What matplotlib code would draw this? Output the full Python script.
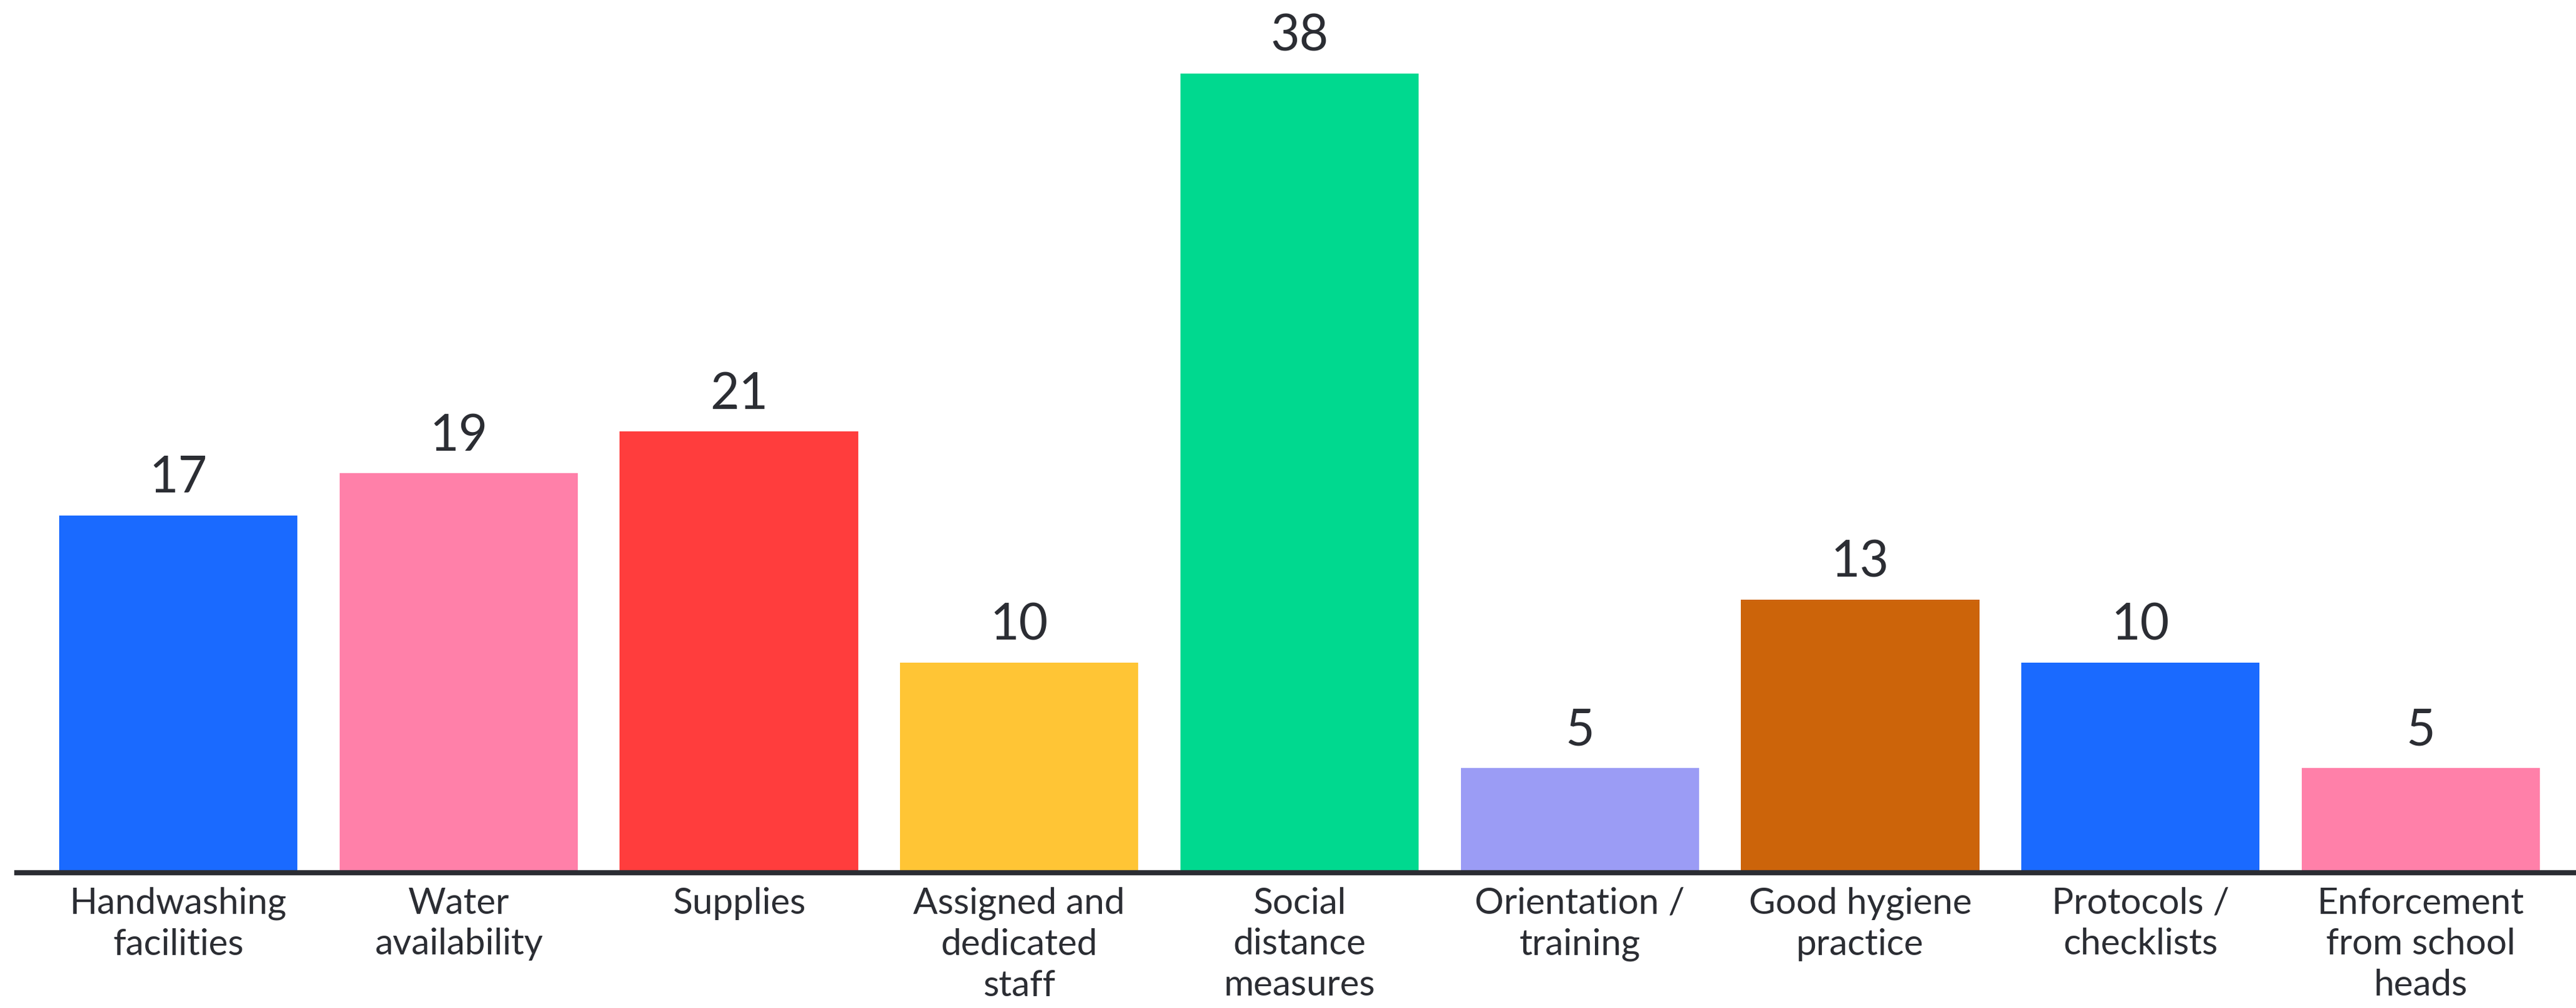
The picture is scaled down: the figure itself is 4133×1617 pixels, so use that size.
import matplotlib.pyplot as plt

categories = ['Handwashing\nfacilities', 'Water\navailability', 'Supplies',
              'Assigned and\ndedicated\nstaff', 'Social\ndistance\nmeasures',
              'Orientation /\ntraining', 'Good hygiene\npractice',
              'Protocols /\nchecklists', 'Enforcement\nfrom school\nheads']
values = [17, 19, 21, 10, 38, 5, 13, 10, 5]
colors = ['#1a6aff', '#ff80a9', '#ff3d3d', '#ffc535', '#00d98f',
          '#9b9cf5', '#cc640a', '#1a6aff', '#ff80a9']

plt.rcParams['font.family'] = ['Lato', 'DejaVu Sans']
text_color = '#2b2d33'

fig = plt.figure(figsize=(41.33, 16.17), dpi=100)
ax = fig.add_axes([0, 0.134, 1, 0.866])

x = range(len(values))
bars = ax.bar(x, values, width=0.85, color=colors)
for b, v in zip(bars, values):
    ax.annotate(str(v), (b.get_x() + b.get_width() / 2, v),
                xytext=(0, 16), textcoords='offset points',
                ha='center', va='bottom', fontsize=58, color=text_color)

ax.set_xlim(-0.636, 8.554)
ax.set_ylim(0, 41.5)
ax.set_xticks(list(x))
ax.set_xticklabels(categories, fontsize=42, color=text_color, linespacing=1.3)
ax.tick_params(axis='x', length=0, pad=16)
ax.set_yticks([])
for s in ['top', 'right', 'left']:
    ax.spines[s].set_visible(False)
ax.spines['bottom'].set_linewidth(6)
ax.spines['bottom'].set_color(text_color)
ax.spines['bottom'].set_bounds(-0.577, 8.554)

fig.savefig('out.png', dpi=100, facecolor='white')
